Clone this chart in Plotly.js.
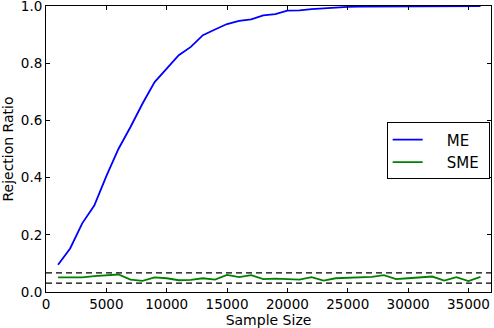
<!DOCTYPE html>
<html>
<head>
<meta charset="utf-8">
<script src="https://cdn.plot.ly/plotly-3.0.1.min.js"></script>
<style>
  html, body { margin: 0; padding: 0; background: #fff; }
  #chart { width: 494px; height: 328px; }
</style>
</head>
<body>
<div id="chart"></div>
<script>
// ---- data ----
const sampleSizes = [1000,2000,3000,4000,5000,6000,7000,8000,9000,10000,
  11000,12000,13000,14000,15000,16000,17000,18000,19000,20000,
  21000,22000,23000,24000,25000,26000,27000,28000,29000,30000,
  31000,32000,33000,34000,35000,36000];
const meValues = [0.095,0.152,0.24,0.302,0.405,0.50,0.577,0.659,0.734,0.781,
  0.828,0.857,0.898,0.918,0.937,0.948,0.953,0.967,0.972,0.984,
  0.985,0.989,0.992,0.995,0.997,0.998,0.998,1.0,0.999,1.0,
  1.0,1.0,1.0,1.0,1.0,1.0];
const smeValues = [0.051,0.050,0.051,0.0555,0.057,0.061,0.043,0.039,0.051,0.048,
  0.041,0.042,0.048,0.043,0.060,0.052,0.059,0.045,0.047,0.046,
  0.043,0.052,0.040,0.048,0.050,0.052,0.053,0.059,0.045,0.048,
  0.050,0.054,0.040,0.052,0.038,0.053];
const bounds = [0.031, 0.067];
const seriesNames = ['ME', 'SME'];
const xTicks = [0,5000,10000,15000,20000,25000,30000,35000];
const yTicks = [0.0,0.2,0.4,0.6,0.8,1.0];
const xRange = [0, 36870];
const yRange = [-0.0001, 1.0001];

const font = {family: 'DejaVu Sans', color: '#000', size: 13.5};
const PAD = '\u200B\u00a0\u00a0\u00a0\u00a0';
const TAIL = '\u00a0\u200B';

const traces = [
  {x: sampleSizes, y: meValues, type: 'scatter', mode: 'lines', name: PAD + seriesNames[0] + TAIL,
   line: {color: '#0000ff', width: 1.8}},
  {x: sampleSizes, y: smeValues, type: 'scatter', mode: 'lines', name: PAD + seriesNames[1] + TAIL,
   line: {color: '#008000', width: 1.8}}
];

const shapes = bounds.map(b => ({
  type: 'line', xref: 'paper', x0: 0, x1: 1, yref: 'y', y0: b, y1: b,
  line: {color: '#000', width: 1.2, dash: '6px,4px'}, layer: 'above'
}));

const axisCommon = {
  showgrid: false, zeroline: false, showline: true, linecolor: '#000', linewidth: 1,
  mirror: 'ticks', ticks: 'inside', ticklen: 4, tickwidth: 1, tickcolor: '#000',
  tickfont: font, automargin: false, ticklabeloverflow: 'allow'
};

const layout = {
  width: 494, height: 328,
  margin: {l: 46, r: 3, t: 6, b: 36, pad: 0},
  paper_bgcolor: '#fff', plot_bgcolor: '#fff',
  font: font,
  showlegend: true,
  legend: {
    x: 0.997, xanchor: 'right', y: 0.593, yanchor: 'top',
    bgcolor: '#fff', bordercolor: '#000', borderwidth: 1,
    font: {family: 'DejaVu Sans', size: 15, color: '#000'}
  },
  xaxis: Object.assign({}, axisCommon, {
    range: xRange, tickvals: xTicks, tickformat: 'd',
    title: {text: 'Sample Size', font: {family: 'DejaVu Sans', size: 14, color: '#000'}, standoff: 4}
  }),
  yaxis: Object.assign({}, axisCommon, {
    range: yRange, tickvals: yTicks, tickformat: '.1f',
    title: {text: 'Rejection Ratio', font: {family: 'DejaVu Sans', size: 14, color: '#000'}, standoff: 6}
  }),
  shapes: shapes
};

Plotly.newPlot('chart', traces, layout, {staticPlot: true, displayModeBar: false});
</script>
</body>
</html>
